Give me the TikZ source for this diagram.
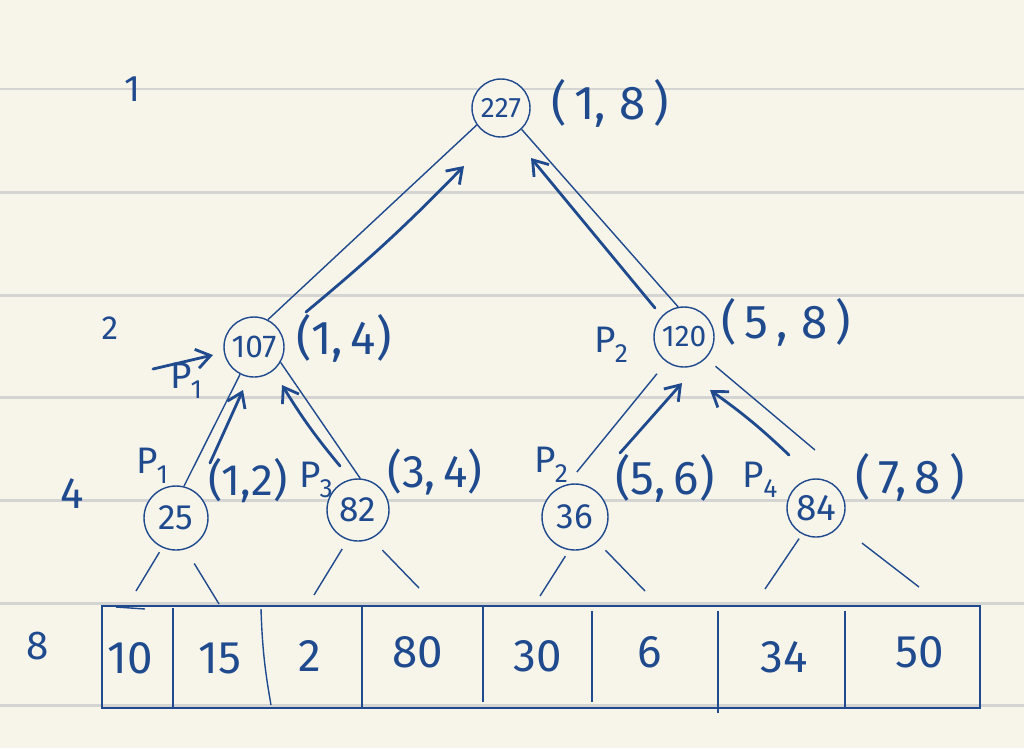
\documentclass[tikz,border=0pt]{standalone}
\usepackage{fontspec}
\setmainfont{Fira Sans}
\usetikzlibrary{arrows.meta,positioning}
\definecolor{ink}{HTML}{1F4A8E}
\definecolor{paper}{HTML}{F7F5EA}
\definecolor{ruling}{HTML}{D4D4D2}
\newcommand{\Psub}[1]{P\kern-0.5pt\raisebox{-0.5ex}{\fontsize{15}{16}\selectfont #1}}

\begin{document}
\begin{tikzpicture}[x=0.02cm,y=-0.02cm,color=ink,line width=0.8pt,
                    sumnode/.style={circle,draw=ink,fill=paper,inner sep=0pt,text=ink},
                    spanlbl/.style={text=ink,inner sep=0pt,font=\fontsize{27}{29}\selectfont},
                    proclbl/.style={text=ink,inner sep=0pt,font=\fontsize{21}{23}\selectfont},
                    depthlbl/.style={text=ink,inner sep=0pt},
                    valbox/.style={text=ink,inner sep=0pt,font=\fontsize{26}{28}\selectfont},
                    upflow/.style={-{Straight Barb[length=8pt,width=11pt]},line width=1.6pt,
                                   line cap=round}]

	% paper
	\fill[paper] (0,0) rectangle (1024,748);
	\useasboundingbox (0,0) rectangle (1024,748);
	\foreach \y in {89,192,295,397,500,603,705}
		\draw[ruling,line width=1.7pt] (0,\y) -- (1024,\y);

	% tree of sums
  	\node[sumnode,minimum size=1.16cm,font=\fontsize{16}{17}\selectfont] (n227) at (501,108) {227};
  	\node[sumnode,minimum size=1.2cm,font=\fontsize{18}{19}\selectfont]  (n107) at (254,347) {107};
  	\node[sumnode,minimum size=1.2cm,font=\fontsize{17}{18}\selectfont]  (n120) at (684,337) {120};
  	\node[sumnode,minimum size=1.28cm,font=\fontsize{20}{21}\selectfont] (n25)  at (176,518) {25};
  	\node[sumnode,minimum size=1.24cm,font=\fontsize{20}{21}\selectfont] (n82)  at (358,510) {82};
  	\node[sumnode,minimum size=1.32cm,font=\fontsize{20}{21}\selectfont] (n36)  at (575,517) {36};
  	\node[sumnode,minimum size=1.16cm,font=\fontsize{21}{22}\selectfont] (n84)  at (816,508) {84};

	\draw (n227.215) -- (n107.63);
	\draw (n227.-46) -- (n120.101);
	\draw (n107.243) -- (n25.76);
	\draw (n107.-30) -- (n82.86);
	\draw[shorten <=8.5pt,shorten >=9pt] (n120.-125) -- (n36.104);
	\coordinate (e84) at (815,450);
	\draw[shorten <=7pt] (n120.-44) -- (e84);

	% strokes down to the array
	\coordinate (l1) at (136,591);
	\coordinate (l2) at (219,604);
	\coordinate (l3) at (314,595);
	\coordinate (l4) at (419,588);
	\coordinate (l5) at (540,596);
	\coordinate (l6) at (645,591);
	\coordinate (l7) at (765,589);
	\coordinate (l8) at (919,587);
	\draw[shorten <=3pt] (n25.245) -- (l1);
	\draw[shorten <=9.5pt] (n25.287) -- (l2);
	\draw[shorten <=6pt] (n82.251) -- (l3);
	\draw[shorten <=9pt] (n82.295) -- (l4);
	\draw[shorten <=4pt] (n36.260) -- (l5);
	\draw[shorten <=6.5pt] (n36.312) -- (l6);
	\draw[shorten <=3pt] (n84.242) -- (l7);
	\draw[shorten <=16pt] (n84.323) -- (l8);

	% array
	\draw (102,606) rectangle (980,708);
	\foreach \x/\a/\b in {173/608/708,362/606/708,483/607/702,592/611/702,718/611/713,845/611/707}
		\draw (\x,\a) -- (\x,\b);
	\draw (261,609) to[bend right=4] (271,705);
	\draw (116,607) -- (145,609);

	\node[valbox] (v1) at (130,658) {10};
	\node[valbox] (v2) at (220,658) {15};
	\node[valbox] (v3) at (310,656) {2};
	\node[valbox] (v4) at (418,652) {80};
	\node[valbox] (v5) at (538,656) {30};
	\node[valbox] (v6) at (650,652) {6};
	\node[valbox] (v7) at (784,657) {34};
	\node[valbox] (v8) at (920,652) {50};

	% ranges
	\node[spanlbl] (r227) at (610,103) {(\,1,\;8\,)};
	\node[spanlbl] (r107) at (344,338) {(1,\,4)};
	\node[spanlbl] (r120) at (786,322) {(\,5\,,\;8\,)};
	\node[spanlbl,font=\fontsize{25}{27}\selectfont] (r25) at (248,481) {(1,2)};
	\node[spanlbl,font=\fontsize{26}{28}\selectfont] (r82)  at (435,472) {(3,\,4)};
	\node[spanlbl] (r36)  at (665,478) {(5,\,6)};
	\node[spanlbl] (r84)  at (910,477) {(\,7,\,8\,)};

	% processors
	\node[proclbl] (p107) at (186,381) {\Psub{1}};
	\node[proclbl] (p25)  at (152,466) {\Psub{1}};
	\node[proclbl] (p82)  at (316,480) {\Psub{3}};
	\node[proclbl] (p120) at (611,345) {\Psub{2}};
	\node[proclbl] (p36)  at (551,465) {\Psub{2}};
	\node[proclbl] (p84)  at (760,480) {\Psub{4}};

	% levels
	\node[depthlbl,font=\fontsize{21}{22}\selectfont] (lv1) at (132,89)  {1};
	\node[depthlbl,font=\fontsize{19}{20}\selectfont] (lv2) at (110,328) {2};
	\node[depthlbl,font=\fontsize{25}{26}\selectfont] (lv4) at (72,494)  {4};
	\node[depthlbl,font=\fontsize{23}{24}\selectfont] (lv8) at (38,646)  {8};

	% partial sums going up
	\coordinate (t1) at (306,312);	\coordinate (h1) at (464,166);
	\coordinate (t2) at (655,308);	\coordinate (h2) at (531,158);
	\coordinate (t3) at (210,463);	\coordinate (h3) at (243,390);
	\coordinate (t4) at (340,466);	\coordinate (h4) at (282,385);
	\coordinate (t5) at (620,453);	\coordinate (h5) at (682,383);
	\coordinate (t6) at (789,455);	\coordinate (h6) at (710,390);
	\coordinate (tp) at (153,369);	\coordinate (hp) at (213,355);
	\draw[upflow] (t1) to[bend right=3] (h1);
	\draw[upflow] (t2) -- (h2);
	\draw[upflow] (t3) -- (h3);
	\draw[upflow] (t4) to[bend left=4] (h4);
	\draw[upflow] (t5) -- (h5);
	\draw[upflow] (t6) to[bend right=4] (h6);
	\draw[upflow] (tp) -- (hp);

\end{tikzpicture}
\end{document}
